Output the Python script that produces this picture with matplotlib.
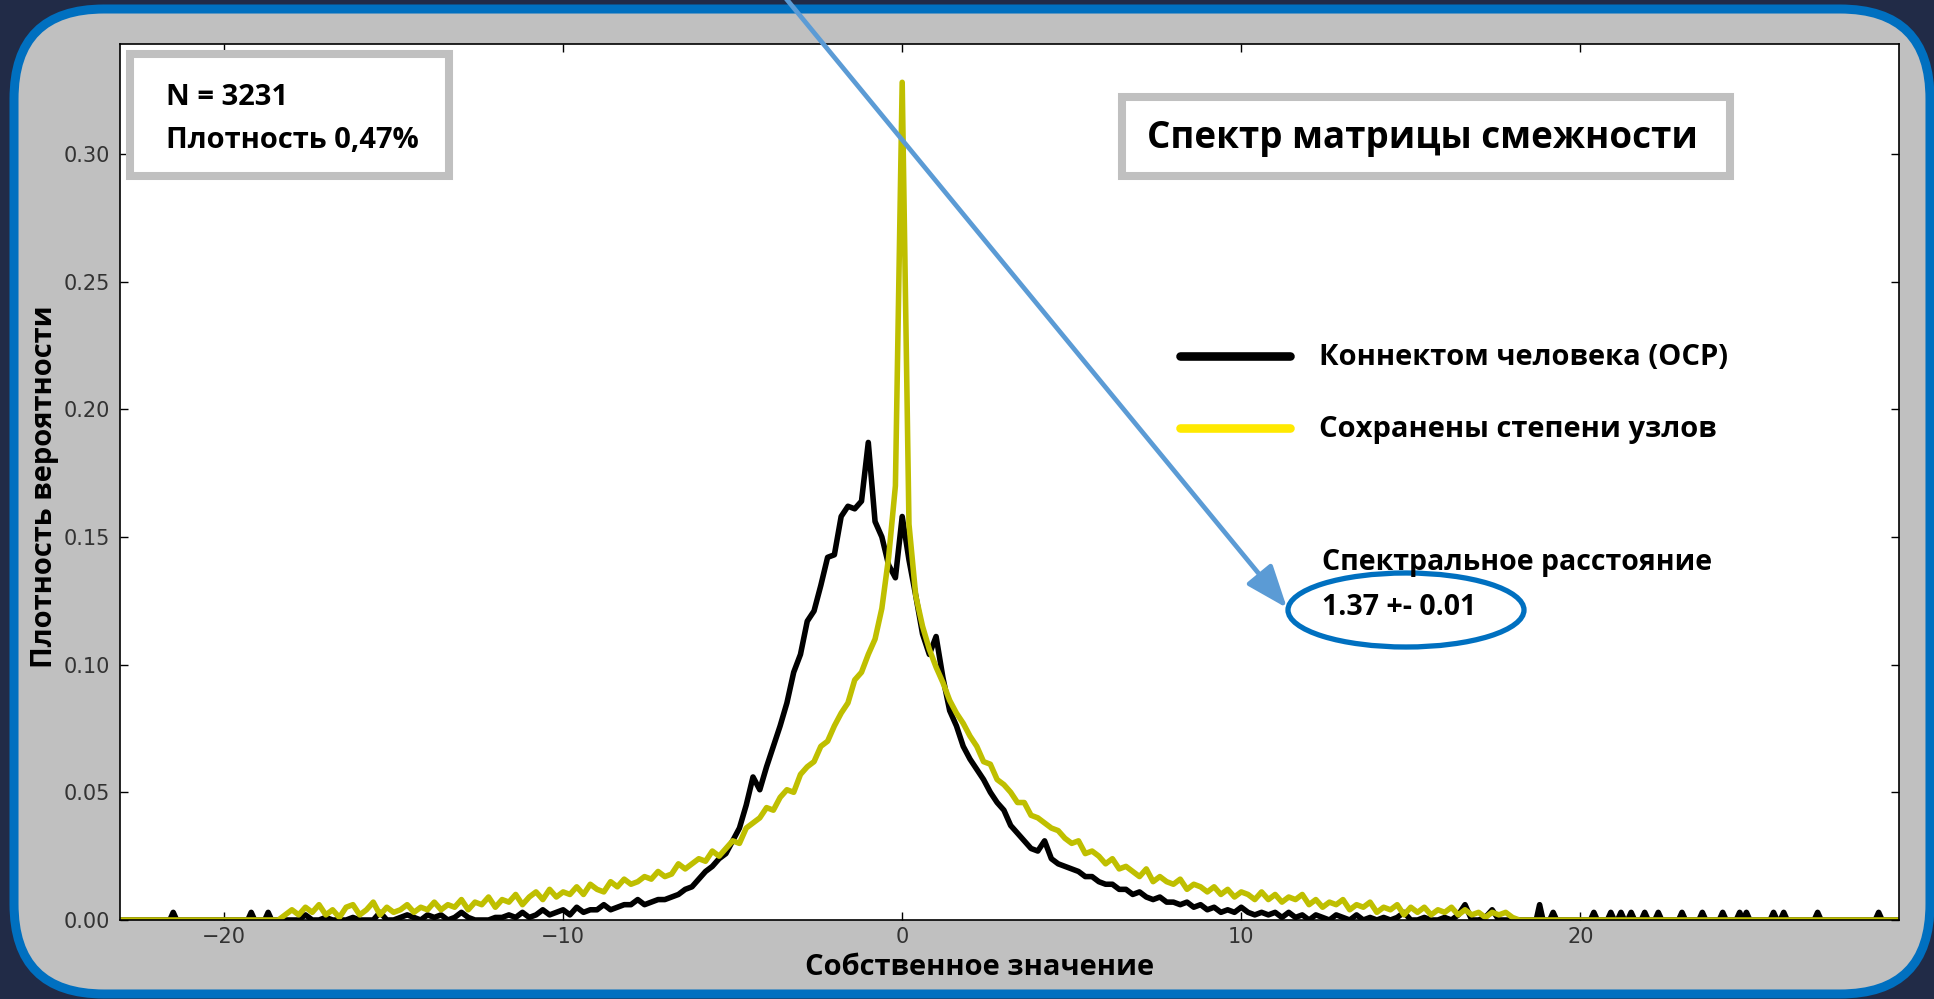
import numpy as np
import matplotlib.pyplot as plt
from matplotlib.patches import FancyBboxPatch, Rectangle, Ellipse, FancyArrowPatch

W, H = 1934, 999
FONT = ['Open Sans', 'DejaVu Sans']

# histogram bin centres for the bulk of both spectra
bins = np.round(np.arange(-18.4, 18.41, 0.2), 1)

# human connectome (OCP), probability density per bin
human = [
    0.0, 0.0, 0.0, 0.0, 0.002, 0.0, 0.0, 0.001, 0.0, 0.0,
    0.0, 0.001, 0.0, 0.0, 0.0, 0.003, 0.0, 0.0, 0.001, 0.002,
    0.001, 0.0, 0.002, 0.001, 0.002, 0.0, 0.001, 0.003, 0.001, 0.0,
    0.0, 0.0, 0.001, 0.001, 0.002, 0.001, 0.003, 0.001, 0.002, 0.004,
    0.002, 0.003, 0.004, 0.002, 0.005, 0.003, 0.004, 0.004, 0.006, 0.004,
    0.005, 0.006, 0.006, 0.008, 0.006, 0.007, 0.008, 0.008, 0.009, 0.010,
    0.012, 0.013, 0.016, 0.019, 0.021, 0.024, 0.026, 0.031, 0.036, 0.045,
    0.056, 0.051, 0.060, 0.068, 0.076, 0.085, 0.097, 0.104, 0.117, 0.121,
    0.131, 0.142, 0.143, 0.158, 0.162, 0.161, 0.164, 0.187, 0.156, 0.150,
    0.139, 0.134, 0.158, 0.141, 0.127, 0.112, 0.104, 0.111, 0.095, 0.082,
    0.076, 0.068, 0.063, 0.059, 0.055, 0.050, 0.046, 0.043, 0.037, 0.034,
    0.031, 0.028, 0.027, 0.031, 0.024, 0.022, 0.021, 0.020, 0.019, 0.017,
    0.017, 0.015, 0.014, 0.014, 0.012, 0.012, 0.010, 0.011, 0.009, 0.008,
    0.009, 0.007, 0.007, 0.006, 0.007, 0.005, 0.006, 0.004, 0.005, 0.003,
    0.004, 0.003, 0.005, 0.003, 0.002, 0.003, 0.002, 0.003, 0.001, 0.003,
    0.001, 0.002, 0.0, 0.002, 0.001, 0.0, 0.002, 0.001, 0.0, 0.002,
    0.0, 0.001, 0.0, 0.001, 0.0, 0.001, 0.003, 0.0, 0.0, 0.001,
    0.0, 0.0, 0.001, 0.0, 0.002, 0.006, 0.0, 0.0, 0.001, 0.004,
    0.0, 0.0, 0.0, 0.0, 0.0,
]

# single eigenvalues of the connectome lying outside the bulk
human_out_x = [-21.5, -19.2, -18.7, 18.8, 19.2, 20.4, 20.9, 21.2, 21.5, 21.9,
               22.3, 23.0, 23.6, 24.2, 24.7, 24.9, 25.7, 26.0, 27.0, 28.8]
human_out_y = [0.003, 0.003, 0.003, 0.006, 0.003, 0.003, 0.003, 0.003, 0.003, 0.003,
               0.003, 0.003, 0.003, 0.003, 0.003, 0.003, 0.003, 0.003, 0.003, 0.003]

# degree-preserving randomisation
degree = [
    0.0, 0.002, 0.004, 0.002, 0.005, 0.003, 0.006, 0.002, 0.004, 0.001,
    0.005, 0.006, 0.002, 0.004, 0.007, 0.002, 0.005, 0.003, 0.004, 0.006,
    0.003, 0.005, 0.004, 0.007, 0.004, 0.006, 0.005, 0.008, 0.004, 0.007,
    0.006, 0.009, 0.005, 0.008, 0.007, 0.010, 0.006, 0.009, 0.011, 0.008,
    0.012, 0.009, 0.011, 0.010, 0.013, 0.010, 0.014, 0.012, 0.011, 0.015,
    0.013, 0.016, 0.014, 0.015, 0.017, 0.016, 0.019, 0.017, 0.018, 0.022,
    0.020, 0.022, 0.024, 0.023, 0.027, 0.025, 0.028, 0.031, 0.030, 0.036,
    0.038, 0.040, 0.044, 0.043, 0.048, 0.051, 0.050, 0.057, 0.060, 0.062,
    0.068, 0.070, 0.076, 0.081, 0.085, 0.094, 0.097, 0.104, 0.110, 0.122,
    0.142, 0.170, 0.328, 0.155, 0.127, 0.115, 0.106, 0.099, 0.093, 0.086,
    0.081, 0.077, 0.072, 0.068, 0.062, 0.061, 0.055, 0.053, 0.050, 0.046,
    0.046, 0.041, 0.040, 0.038, 0.036, 0.035, 0.032, 0.030, 0.031, 0.026,
    0.027, 0.025, 0.022, 0.024, 0.020, 0.021, 0.019, 0.017, 0.020, 0.015,
    0.017, 0.015, 0.014, 0.016, 0.012, 0.014, 0.013, 0.011, 0.013, 0.010,
    0.012, 0.009, 0.011, 0.010, 0.008, 0.011, 0.008, 0.010, 0.007, 0.009,
    0.008, 0.010, 0.006, 0.008, 0.005, 0.007, 0.006, 0.008, 0.004, 0.006,
    0.005, 0.007, 0.003, 0.005, 0.004, 0.006, 0.002, 0.005, 0.003, 0.005,
    0.002, 0.004, 0.003, 0.005, 0.002, 0.004, 0.002, 0.003, 0.001, 0.003,
    0.002, 0.003, 0.001, 0.0, 0.0,
]

xlim = (-23.07, 29.4)
ylim = (0.0, 0.343)
xticks = [-20, -10, 0, 10, 20]
yticks = [0.00, 0.05, 0.10, 0.15, 0.20, 0.25, 0.30]

labels = ['Коннектом человека (ОСР)', 'Сохранены степени узлов']
title = 'Спектр матрицы смежности'
info = ['N = 3231', 'Плотность 0,47%']
distance = ['Спектральное расстояние', '1.37 +- 0.01']


def with_spikes(x, y, sx, sy, half=0.1):
    """Add isolated one-bin spikes and flat ends to a histogram line."""
    px, py = [xlim[0]], [0.0]
    left = [(a, h) for a, h in zip(sx, sy) if a < x[0]]
    right = [(a, h) for a, h in zip(sx, sy) if a > x[-1]]
    for a, h in left:
        px += [a - half, a, a + half]
        py += [0.0, h, 0.0]
    px += list(x)
    py += list(y)
    for a, h in right:
        px += [a - half, a, a + half]
        py += [0.0, h, 0.0]
    px.append(xlim[1])
    py.append(0.0)
    return px, py


def pixel_axes(zorder):
    a = fig.add_axes([0, 0, 1, 1], zorder=zorder)
    a.set_xlim(0, W)
    a.set_ylim(H, 0)
    a.axis('off')
    return a


fig = plt.figure(figsize=(W / 100, H / 100), dpi=100)
fig.patch.set_facecolor('#212b47')

# slide panel behind the chart
bg = pixel_axes(0)
bg.add_patch(FancyBboxPatch((14, 9), 1916, 985,
                            boxstyle='round,pad=0,rounding_size=90',
                            fc='#c0c0c0', ec='#0070c0', lw=6.5))

ax = fig.add_axes([120 / W, 1 - 920 / H, 1779 / W, 876 / H], zorder=1)
hx, hy = with_spikes(bins, human, human_out_x, human_out_y)
ax.plot(hx, hy, color='k', lw=4)
dx, dy = with_spikes(bins, degree, [], [])
ax.plot(dx, dy, color='#bfbf00', lw=4)

ax.set_xlim(*xlim)
ax.set_ylim(*ylim)
ax.set_xticks(xticks)
ax.set_yticks(yticks)
ax.tick_params(direction='in', top=True, right=True, length=6, width=1,
               labelsize=15, labelcolor='#333333')
ax.tick_params(axis='y', pad=7)
ax.tick_params(axis='x', pad=5)
for s in ax.spines.values():
    s.set_linewidth(1.2)

# annotations drawn on top, in pixel coordinates
ov = pixel_axes(2)

ov.add_patch(Rectangle((130, 54), 319, 122, fc='white', ec='#c0c0c0', lw=5.8))
ov.text(166, 105, info[0], fontsize=21, fontweight='bold', family=FONT, va='baseline')
ov.text(166, 148, info[1], fontsize=21, fontweight='bold', family=FONT, va='baseline')

ov.add_patch(Rectangle((1122, 97), 608, 79, fc='white', ec='#c0c0c0', lw=5.8))
ov.text(1147, 148, title, fontsize=26.5, fontweight='bold', family=FONT, va='baseline')

ov.plot([1180, 1290], [356, 356], color='k', lw=6.2, solid_capstyle='round')
ov.plot([1180, 1290], [428, 428], color='#ffe900', lw=6.2, solid_capstyle='round')
ov.text(1319, 365, labels[0], fontsize=21, fontweight='bold', family=FONT, va='baseline')
ov.text(1319, 437, labels[1], fontsize=21, fontweight='bold', family=FONT, va='baseline')

ov.text(1322, 570, distance[0], fontsize=20.5, fontweight='bold', family=FONT, va='baseline')
ov.text(1322, 615, distance[1], fontsize=20.5, fontweight='bold', family=FONT, va='baseline')
ov.add_patch(Ellipse((1406, 610), 236, 74, fill=False, ec='#0070c0', lw=3.8))
ov.add_patch(FancyArrowPatch((779, -10), (1287, 608),
                             arrowstyle='-|>,head_length=26,head_width=10',
                             color='#5b9bd5', lw=3.4, shrinkA=0, shrinkB=0))

ov.text(980, 975, 'Собственное значение', fontsize=21, fontweight='bold',
        family=FONT, ha='center', va='baseline')
ov.text(45, 487, 'Плотность вероятности', fontsize=21, fontweight='bold',
        family=FONT, ha='center', va='center', rotation=90)

fig.savefig('out.png', dpi=100, facecolor=fig.get_facecolor())
